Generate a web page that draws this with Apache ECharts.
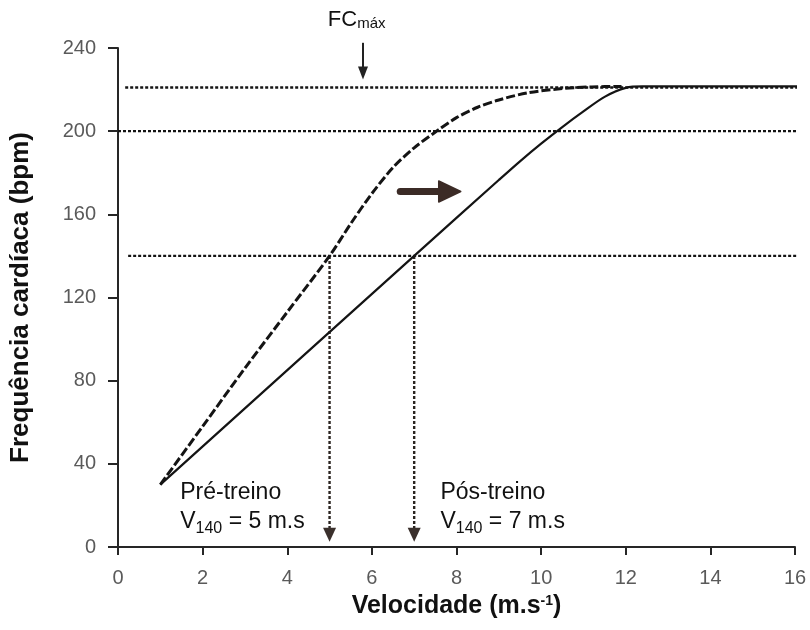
<!DOCTYPE html>
<html>
<head>
<meta charset="utf-8">
<script src="https://cdn.jsdelivr.net/npm/echarts@6/dist/echarts.min.js"></script>
<style>
  html, body { margin: 0; padding: 0; background: #fff; }
  #chart { width: 810px; height: 630px; }
</style>
</head>
<body>
<div id="chart"></div>
<script>
// Heart-rate response to running speed, before and after training
const xTicks = [0, 2, 4, 6, 8, 10, 12, 14, 16];
const yTicks = [0, 40, 80, 120, 160, 200, 240];

// Pre-training curve (dashed)
const preVel = [1, 2, 3, 4, 5, 5.5, 6, 6.5, 7, 7.6, 8, 8.5, 9, 9.7, 10.5, 11.2, 11.9];
const preHR  = [30, 58, 86, 113, 140, 155.5, 170, 182.5, 192, 201, 206.5, 211.5, 215, 218.5, 220.5, 221.3, 221.5];

// Post-training curve (solid)
const postVel = [1, 7, 9, 9.5, 10, 10.5, 11, 11.5, 12, 12.4, 16.1];
const postHR  = [30, 140, 176.5, 185.5, 194, 202, 209.5, 216.5, 220.8, 221.5, 221.5];

// Reference heart-rate levels (dotted lines)
const refHR    = [221, 200, 140];
const refStart = [0.17, 0, 0.24];
const refEnd   = 16.12;

// V140 drop lines
const dropVel = [5, 7];
const dropTop = 140;
const dropBottom = 9;

const FONT = '"Liberation Sans", Arial, Helvetica, sans-serif';
const INK = '#141414';
const DOT = [3, 2];

const zip = (xs, ys) => xs.map((x, i) => [x, ys[i]]);

const series = [];
refHR.forEach((hr, i) => {
  series.push({
    type: 'line', data: [[refStart[i], hr], [refEnd, hr]],
    showSymbol: false, clip: false, silent: true, z: 2,
    lineStyle: { color: INK, width: 2.4, type: DOT }
  });
});
dropVel.forEach(v => {
  series.push({
    type: 'line', data: [[v, dropTop], [v, dropBottom]],
    showSymbol: false, clip: false, silent: true, z: 2,
    lineStyle: { color: '#2a2420', width: 2.4, type: DOT }
  });
});
series.push({
  name: 'Pós-treino', type: 'line', data: zip(postVel, postHR),
  showSymbol: false, clip: false, smooth: 0.3, z: 3,
  lineStyle: { color: INK, width: 2.2 }
});
series.push({
  name: 'Pré-treino', type: 'line', data: zip(preVel, preHR),
  showSymbol: false, clip: false, smooth: 0.3, z: 3,
  lineStyle: { color: INK, width: 3, type: [9, 3] }
});

const chart = echarts.init(document.getElementById('chart'), null, { renderer: 'canvas' });

chart.setOption({
  animation: false,
  backgroundColor: '#fff',
  grid: { left: 118, right: 15, top: 48, bottom: 83 },
  xAxis: {
    type: 'value', min: xTicks[0], max: xTicks[xTicks.length - 1], interval: 2,
    name: 'Velocidade (m.s{sup|-1})',
    nameLocation: 'middle', nameGap: 47,
    nameTextStyle: {
      fontFamily: FONT, fontSize: 25, fontWeight: 'bold', color: '#111',
      rich: {
        sup: { fontFamily: FONT, fontSize: 14, fontWeight: 'bold', color: '#111', verticalAlign: 'top', lineHeight: 14, padding: [0, 0, 12, 0] }
      }
    },
    axisLine: { show: true, lineStyle: { color: '#262626', width: 2 } },
    axisTick: { show: true, length: 8, lineStyle: { color: '#262626', width: 2 } },
    axisLabel: { fontFamily: FONT, fontSize: 20, color: '#5a5a5a', margin: 21 },
    splitLine: { show: false }
  },
  yAxis: {
    type: 'value', min: yTicks[0], max: yTicks[yTicks.length - 1], interval: 40,
    name: 'Frequência cardíaca (bpm)',
    nameLocation: 'middle', nameGap: 84, nameRotate: 90,
    nameTextStyle: { fontFamily: FONT, fontSize: 26, fontWeight: 'bold', color: '#111' },
    axisLine: { show: true, lineStyle: { color: '#262626', width: 2 } },
    axisTick: { show: true, length: 10, lineStyle: { color: '#262626', width: 2 } },
    axisLabel: { fontFamily: FONT, fontSize: 20, color: '#5a5a5a', margin: 22 },
    splitLine: { show: false }
  },
  series: series
});

// Annotations anchored in data coordinates
const px = (x, y) => chart.convertToPixel({ gridIndex: 0 }, [x, y]);
const graphics = [];

// Downward arrowheads at the end of the V140 drop lines
dropVel.forEach(v => {
  const tip = px(v, 2.5);
  graphics.push({
    type: 'polygon', z: 10,
    shape: { points: [[tip[0] - 6.5, tip[1] - 14], [tip[0] + 6.5, tip[1] - 14], [tip[0], tip[1]]] },
    style: { fill: '#3a302c' }
  });
});

// Thick arrow showing the rightward shift of the curve
const aStart = px(6.67, 171), aEnd = px(8.1, 171);
graphics.push({
  type: 'line', z: 10,
  shape: { x1: aStart[0], y1: aStart[1], x2: aEnd[0] - 18, y2: aEnd[1] },
  style: { stroke: '#3b2b26', lineWidth: 7, lineCap: 'round' }
});
graphics.push({
  type: 'polygon', z: 10,
  shape: { points: [[aEnd[0] - 22, aEnd[1] - 10.5], [aEnd[0], aEnd[1]], [aEnd[0] - 22, aEnd[1] + 10.5]] },
  style: { fill: '#3b2b26', lineJoin: 'round', stroke: '#3b2b26', lineWidth: 1.5 }
});

// FCmáx marker
const fcTop = px(5.79, 242.5), fcTip = px(5.79, 224.8);
graphics.push({
  type: 'line', z: 10,
  shape: { x1: fcTop[0], y1: fcTop[1], x2: fcTip[0], y2: fcTip[1] - 10 },
  style: { stroke: '#222', lineWidth: 2 }
});
graphics.push({
  type: 'polygon', z: 10,
  shape: { points: [[fcTip[0] - 5, fcTip[1] - 13], [fcTip[0] + 5, fcTip[1] - 13], [fcTip[0], fcTip[1]]] },
  style: { fill: '#222' }
});
const fcLabel = px(4.96, 248);
graphics.push({
  type: 'text', z: 10, x: fcLabel[0], y: fcLabel[1],
  style: {
    text: 'FC{sub|máx}', textVerticalAlign: 'bottom', textAlign: 'left',
    font: '22px ' + FONT, fill: '#111',
    rich: { sub: { fontFamily: FONT, fontSize: 15, fill: '#111', verticalAlign: 'bottom', lineHeight: 15, padding: [5, 0, 0, 0] } }
  }
});

// Pre/post V140 captions
const captions = [
  { x: 1.47, y: 33, lines: ['Pré-treino', 'V{sub|140} = 5 m.s'] },
  { x: 7.62, y: 33, lines: ['Pós-treino', 'V{sub|140} = 7 m.s'] }
];
captions.forEach(c => {
  const p = px(c.x, c.y);
  graphics.push({
    type: 'text', z: 10, x: p[0], y: p[1],
    style: {
      text: c.lines.join('\n'), textAlign: 'left', textVerticalAlign: 'top',
      fontFamily: FONT, fontSize: 23, fill: '#111', lineHeight: 29,
      rich: { sub: { fontFamily: FONT, fontSize: 16, fill: '#111', verticalAlign: 'bottom', lineHeight: 16, padding: [6, 0, 0, 0] } }
    }
  });
});

chart.setOption({ graphic: graphics });
</script>
</body>
</html>
